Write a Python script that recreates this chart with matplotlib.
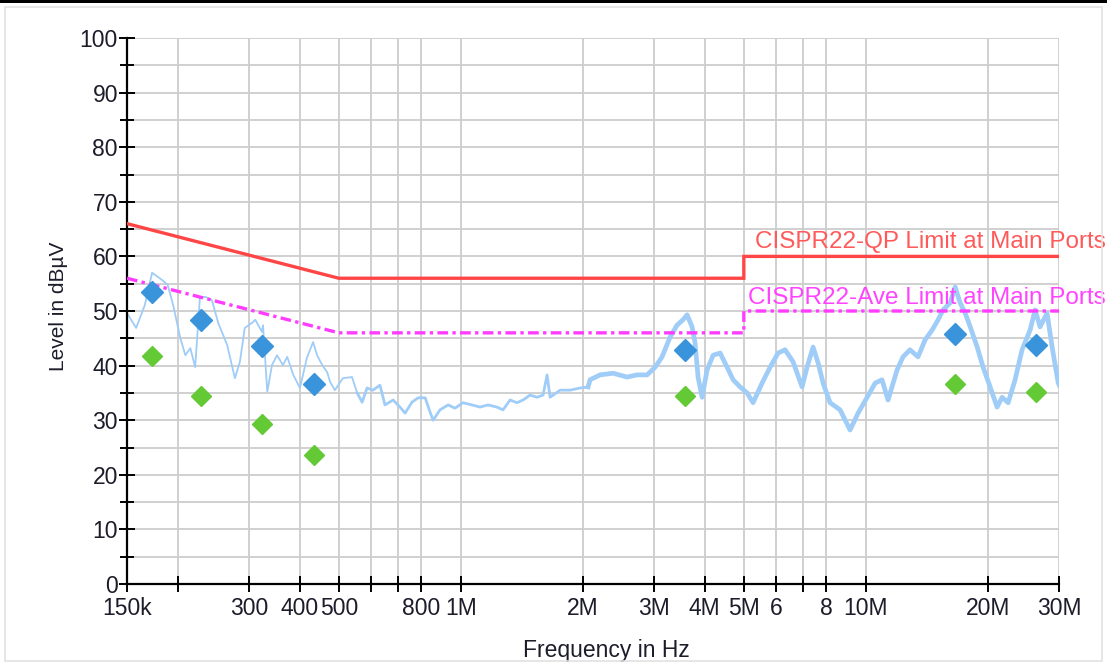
import matplotlib
matplotlib.use("Agg")
import matplotlib.pyplot as plt
from matplotlib.patches import Rectangle
import numpy as np

plt.rcParams['font.family'] = ['Liberation Sans', 'DejaVu Sans']

# ---- data ----
# measured trace (frequency in MHz, level in dBuV)
trace_f = [0.150, 0.158, 0.166, 0.173, 0.183, 0.189, 0.195, 0.203, 0.209, 0.215,
           0.221, 0.227, 0.234, 0.243, 0.252, 0.265, 0.277, 0.285, 0.293, 0.305,
           0.311, 0.323, 0.325, 0.333, 0.342, 0.352, 0.364, 0.373, 0.386, 0.401,
           0.417, 0.432, 0.442, 0.455, 0.468, 0.476, 0.489, 0.512, 0.539, 0.555,
           0.571, 0.587, 0.607, 0.632, 0.650, 0.681, 0.708, 0.729, 0.758, 0.785,
           0.817, 0.840, 0.855, 0.889, 0.931, 0.968, 1.013, 1.066, 1.116, 1.168,
           1.229, 1.272, 1.324, 1.377, 1.425, 1.483, 1.543, 1.597, 1.634, 1.662,
           1.760, 1.862, 1.971, 2.063, 2.086, 2.208, 2.377, 2.574, 2.725, 2.885,
           3.020, 3.141, 3.287, 3.420, 3.540, 3.621, 3.726, 3.790, 3.855, 3.944,
           4.058, 4.199, 4.370, 4.547, 4.705, 4.895, 5.093, 5.270, 5.547, 5.805,
           6.075, 6.321, 6.615, 6.963, 7.163, 7.412, 7.626, 7.847, 8.164, 8.641,
           9.147, 9.573, 10.08, 10.55, 10.97, 11.35, 11.95, 12.36, 12.86, 13.46,
           14.01, 14.58, 15.09, 15.52, 16.16, 16.62, 17.10, 17.60, 18.11, 18.84,
           19.49, 20.28, 21.10, 21.71, 22.47, 23.37, 24.32, 25.45, 26.19, 26.94,
           28.03, 28.85, 29.87, 30.0]
trace_level = [49.6, 46.9, 51.1, 57.0, 55.7, 54.8, 51.1, 45.1, 41.9, 43.2,
               39.7, 52.4, 52.6, 52.0, 47.8, 43.8, 37.7, 40.7, 46.9, 47.8,
               48.4, 46.2, 47.4, 35.2, 40.1, 41.9, 40.1, 41.6, 38.3, 35.9,
               41.4, 44.3, 41.9, 40.1, 38.8, 37.0, 35.5, 37.7, 37.9, 35.0,
               33.3, 35.9, 35.5, 36.4, 32.8, 33.7, 32.4, 31.3, 33.3, 34.1,
               34.1, 31.5, 30.0, 31.9, 32.8, 32.2, 33.2, 32.8, 32.4, 32.8,
               32.4, 31.9, 33.7, 33.2, 33.7, 34.6, 34.2, 34.6, 38.3, 34.2,
               35.5, 35.5, 35.9, 36.1, 37.4, 38.3, 38.6, 37.9, 38.3, 38.3,
               39.7, 41.6, 45.2, 47.4, 48.4, 49.3, 47.1, 44.1, 37.9, 34.2,
               39.2, 41.9, 42.3, 39.7, 37.4, 36.1, 35.0, 33.2, 36.8, 39.7,
               42.3, 42.9, 40.7, 36.1, 39.7, 43.4, 40.5, 36.8, 33.2, 31.9,
               28.2, 31.3, 34.2, 36.8, 37.4, 33.7, 39.2, 41.6, 42.9, 41.6,
               44.7, 46.5, 48.4, 50.2, 51.5, 54.4, 51.5, 49.6, 47.1, 43.4,
               39.7, 36.1, 32.4, 34.2, 33.2, 37.4, 42.9, 46.5, 50.2, 47.1,
               49.6, 43.4, 36.8, 36.5]

qp_f = [0.173, 0.228, 0.323, 0.434, 3.58, 16.6, 26.3]
qp_level = [53.5, 48.4, 43.6, 36.6, 42.9, 45.8, 43.8]
av_f = [0.173, 0.228, 0.323, 0.434, 3.58, 16.6, 26.3]
av_level = [41.8, 34.4, 29.3, 23.6, 34.4, 36.6, 35.2]

qp_limit_f = [0.15, 0.5, 5.0, 5.0, 30.0]
qp_limit_level = [66, 56, 56, 60, 60]
av_limit_f = [0.15, 0.5, 5.0, 5.0, 30.0]
av_limit_level = [56, 46, 46, 50, 50]

xtick_vals = [0.15, 0.2, 0.3, 0.4, 0.5, 0.6, 0.7, 0.8, 1, 2, 3, 4, 5, 6, 7, 8, 10, 20, 30]
xtick_labels = ["150k", "", "300", "400", "500", "", "", "800", "1M", "2M", "3M",
                "4M", "5M", "6", "", "8", "10M", "20M", "30M"]
ytick_major = list(range(0, 101, 10))
ytick_minor = list(range(5, 100, 10))

qp_label = "CISPR22-QP Limit at Main Ports"
av_label = "CISPR22-Ave Limit at Main Ports"

# ---- figure ----
W, H = 1107, 664
fig = plt.figure(figsize=(W / 100, H / 100), dpi=100)
fig.patch.set_facecolor('white')
ax = fig.add_axes([127 / W, 1 - 584 / H, 932 / W, 546 / H])
ax.set_xscale('log')
ax.set_xlim(0.15, 30)
ax.set_ylim(0, 100)

grid_c = '#CDCDCD'
for v in xtick_vals[1:]:
    ax.axvline(v, color=grid_c, lw=1.3, zorder=0)
for v in range(5, 101, 5):
    ax.axhline(v, color=grid_c, lw=1.3, zorder=0)

# trace
tf = np.array(trace_f)
tl = np.array(trace_level)
seg1 = tf <= 0.56
seg2 = (tf >= 0.55) & (tf <= 2.1)
seg3 = tf >= 2.0
tc = '#9FCDF8'
ax.plot(tf[seg1], tl[seg1], color=tc, lw=1.3, zorder=2)
ax.plot(tf[seg2], tl[seg2], color=tc, lw=2.0, zorder=2)
ax.plot(tf[seg3], tl[seg3], color=tc, lw=3.4, zorder=2)

# limits
ax.plot(qp_limit_f, qp_limit_level, color='#FF4545', lw=2.4, zorder=3, solid_joinstyle='miter')
ax.plot(av_limit_f, av_limit_level, color='#FF3CFF', lw=2.4, zorder=3,
        dashes=(3.2, 1.3, 1.0, 1.3))

ax.text(5.33, 60.6, qp_label, color='#FF5A5A', fontsize=17.5, va='bottom', ha='left',
        clip_on=False, zorder=4)
ax.text(5.12, 50.4, av_label, color='#FF44FF', fontsize=17.5, va='bottom', ha='left',
        clip_on=False, zorder=4)

# markers
ax.plot(qp_f, qp_level, linestyle='none', marker='D', ms=11.5, color='#3A94DB', zorder=5)
ax.plot(av_f, av_level, linestyle='none', marker='D', ms=10.5, color='#63C935', zorder=5)

# axes styling
for s in ['top', 'right']:
    ax.spines[s].set_visible(False)
for s in ['left', 'bottom']:
    ax.spines[s].set_linewidth(1.6)
    ax.spines[s].set_color('black')

ax.set_xticks(xtick_vals)
ax.set_xticklabels(xtick_labels)
ax.xaxis.set_minor_locator(matplotlib.ticker.NullLocator())
ax.set_yticks(ytick_major)
ax.set_yticks(ytick_minor, minor=True)
ax.tick_params(axis='x', which='major', direction='inout', length=11, width=1.4,
               labelsize=16.5, pad=4, colors='black')
ax.tick_params(axis='y', which='major', direction='inout', length=11, width=1.4,
               labelsize=16.5, pad=1, colors='black')
ax.tick_params(axis='y', which='minor', direction='inout', length=10, width=1.4)
for lbl in ax.get_xticklabels() + ax.get_yticklabels():
    lbl.set_color('#1C1C2A')

ax.set_xlabel("Frequency in Hz", fontsize=16.5, color='#1C1C2A')
ax.set_ylabel("Level in dB\u00b5V", fontsize=15, color='#1C1C2A')
ax.xaxis.set_label_coords(0.514, -0.100)
ax.yaxis.set_label_coords(-0.063, 0.509)

# frame of the panel
fig.patches.append(Rectangle((5 / W, 3 / H), 1097 / W, 654 / H, transform=fig.transFigure,
                             fill=False, edgecolor='#E2E2E2', lw=1.2))
fig.patches.append(Rectangle((0, 1 - 3 / H), 1, 3 / H, transform=fig.transFigure,
                             facecolor='black', edgecolor='none'))

fig.savefig('out.png', dpi=100)
